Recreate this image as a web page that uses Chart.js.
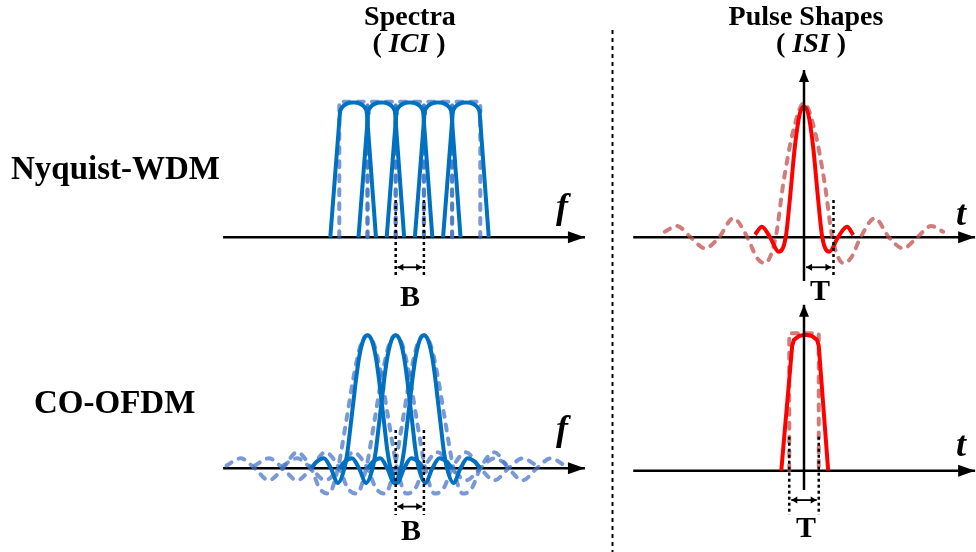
<!DOCTYPE html>
<html><head><meta charset="utf-8">
<script src="https://cdn.jsdelivr.net/npm/chart.js@4/dist/chart.umd.min.js"></script>
<style>
html,body{margin:0;padding:0;background:#fff;}
#wrap{position:relative;width:976px;height:552px;overflow:hidden;background:#fff;}
#c{position:absolute;left:0;top:0;}
.lbl{position:absolute;font-family:"Liberation Serif","Times New Roman",serif;font-weight:bold;line-height:1;white-space:nowrap;color:#000;}
.c{transform:translateX(-50%);}
.it{font-style:italic;}
</style></head><body>
<div id="wrap">
<canvas id="c" width="976" height="552"></canvas>
<div class="lbl c" style="left:410px;top:1.5px;font-size:28px">Spectra</div>
<div class="lbl c" style="left:409px;top:28.5px;font-size:28px">( <i>ICI</i> )</div>
<div class="lbl c" style="left:806px;top:1.5px;font-size:28px">Pulse Shapes</div>
<div class="lbl c" style="left:811px;top:28.5px;font-size:28px">( <i>ISI</i> )</div>
<div class="lbl" style="left:11px;top:152.4px;font-size:33px">Nyquist-WDM</div>
<div class="lbl" style="left:34px;top:385.7px;font-size:33px">CO-OFDM</div>
<div class="lbl c it" style="left:562px;top:188px;font-size:36px">f</div>
<div class="lbl c it" style="left:961px;top:195px;font-size:36px">t</div>
<div class="lbl c it" style="left:562px;top:410px;font-size:36px">f</div>
<div class="lbl c it" style="left:961px;top:426px;font-size:36px">t</div>
<div class="lbl c" style="left:410px;top:281px;font-size:30px">B</div>
<div class="lbl c" style="left:820px;top:275px;font-size:30px">T</div>
<div class="lbl c" style="left:411px;top:515px;font-size:30px">B</div>
<div class="lbl c" style="left:806px;top:512px;font-size:30px">T</div>
</div>
<script>
// ---------------- data ----------------
// Spectra: frequency in units of the sub-channel spacing B, amplitude normalised
const nyquistCenters = [-2, -1, 0, 1, 2];
const nyquistShapeOffset = [-0.82, -0.48, -0.465, -0.415, -0.34, -0.24, -0.12, 0, 0.12, 0.24, 0.34, 0.415, 0.465, 0.48, 0.80];
const nyquistShapeLevel  = [0, 0.91, 0.935, 0.955, 0.972, 0.985, 0.993, 0.995, 0.993, 0.985, 0.972, 0.955, 0.935, 0.91, 0];
const nyquistBoxEdges = [-2.5, -1.5, -0.5, 0.5, 1.5, 2.5];
const nyquistBoxLevel = 1.0;

const ofdmCenters = [-1.5, -0.5, 0.5];
const ofdmSolidOffset = [-2.0, -1.8, -1.55, -1.3, -1.05, -0.82, -0.7, -0.6, -0.5, -0.4, -0.3, -0.2, -0.1, 0, 0.1, 0.2, 0.3, 0.4, 0.5, 0.6, 0.7, 0.82, 1.05, 1.3, 1.55, 1.8, 2.0];
const ofdmSolidLevel  = [0, 0.05, 0.075, 0.0, -0.11, 0, 0.14, 0.32, 0.5, 0.68, 0.83, 0.93, 0.985, 1.0, 0.985, 0.93, 0.83, 0.68, 0.5, 0.32, 0.14, 0, -0.11, 0.0, 0.075, 0.05, 0];
const ofdmDashOffset = [-5.0, -4.5, -4.0, -3.5, -3.0, -2.5, -2.0, -1.7, -1.38, -1.05, -0.75, -0.5, -0.25, 0, 0.25, 0.5, 0.75, 1.05, 1.38, 1.7, 2.0, 2.5, 3.0, 3.5, 4.0, 4.5, 5.0];
const ofdmDashLevel  = [0.02, 0.075, 0.0, -0.09, 0.0, 0.12, 0.0, -0.15, -0.19, 0.0, 0.36, 0.68, 0.92, 1.0, 0.92, 0.68, 0.36, 0.0, -0.19, -0.15, 0.0, 0.12, 0.0, -0.09, 0.0, 0.075, 0.02];

// Pulse shapes: time in units of the symbol period T
const nyquistPulseTime  = [-1.66, -1.43, -1.15, -0.86, -0.62, -0.47, -0.31, -0.14, 0, 0.14, 0.31, 0.47, 0.62, 0.86, 1.15, 1.46, 1.67];
const nyquistPulseLevel = [0.02, 0.078, 0, -0.106, 0, 0.30, 0.668, 0.914, 0.963, 0.914, 0.668, 0.30, 0, -0.106, 0, 0.078, 0.017];
const sincPulseTime  = [-4.72, -4.31, -3.84, -3.36, -2.88, -2.4, -1.92, -1.6, -1.33, -0.96, -0.7, -0.36, 0, 0.36, 0.7, 0.96, 1.33, 1.6, 1.92, 2.4, 2.88, 3.36, 3.84, 4.31, 4.72];
const sincPulseLevel = [0.041, 0.083, 0, -0.081, 0, 0.14, 0, -0.15, -0.19, 0, 0.40, 0.79, 0.99, 0.79, 0.40, 0, -0.19, -0.15, 0, 0.14, 0, -0.081, 0, 0.083, 0.041];
const ofdmPulseTime  = [-0.77, -0.40, -0.34, -0.175, 0.05, 0.275, 0.44, 0.50, 0.82];
const ofdmPulseLevel = [0, 0.92, 0.962, 0.99, 1.0, 0.99, 0.962, 0.92, 0];
const rectBoxEdges = [-0.5, 0.5];
const rectBoxLevel = 1.01;

// axes and spacing markers
const freqAxisRange = [-6.62, 6.21];
const timeAxisRange = [-5.79, 5.80];
const pulseAxisTopRange = [-0.322, 1.234];
const pulseAxisBottomRange = [-0.142, 1.22];
const spacingB = [-0.5, 0.5];
const periodTTop = [0, 1];
const periodTBottom = [-0.5, 0.5];

// ---------------- layout (pixels) ----------------
const W = 976, H = 552;
const frame = {
  xL:  {origin: 409.8, px: 28.2, dir: 1},
  xR:  {origin: 804,   px: 29.5, dir: 1},
  yT:  {origin: 237.3, px: 135.6, dir: -1},
  yB:  {origin: 468.3, px: 133,   dir: -1},
  yBR: {origin: 470.7, px: 136,   dir: -1}
};
function scaleFor(id){
  const f = frame[id];
  const span = id[0] === 'x' ? W : H;
  const a = -f.origin / f.px, b = (span - f.origin) / f.px;
  return {type:'linear', display:false, position: id[0]==='x'?'bottom':'left',
          min: f.dir>0 ? a : -b, max: f.dir>0 ? b : -a,
          grid:{display:false}, ticks:{display:false}};
}

const BLUE = '#0070C0', BLUE_D = 'rgba(68,114,196,0.72)';
const RED = '#FF0000', RED_D = 'rgba(192,80,77,0.75)';
const DASH = [6, 8];

function pts(xs, ys, shift){ return xs.map((x,i)=>({x:x+(shift||0), y:ys[i]})); }
function hline(range, y){ return [{x:range[0],y:y},{x:range[1],y:y}]; }
function vline(x, range){ return [{x:x,y:range[0]},{x:x,y:range[1]}]; }
function box(l, r, h){ return [{x:l,y:0},{x:l,y:h},{x:r,y:h},{x:r,y:0}]; }

const layers = []; // bottom to top
function add(o){ layers.push(Object.assign({showLine:true, pointRadius:0, pointHoverRadius:0, fill:false, tension:0}, o)); }

// axes
add({data: hline(freqAxisRange, 0), xAxisID:'xL', yAxisID:'yT', borderColor:'#000', borderWidth:2.5, arrowEnd:[17,6]});
add({data: hline(freqAxisRange, 0), xAxisID:'xL', yAxisID:'yB', borderColor:'#000', borderWidth:2.5, arrowEnd:[17,6]});
add({data: hline(timeAxisRange, 0), xAxisID:'xR', yAxisID:'yT', borderColor:'#000', borderWidth:2.5, arrowEnd:[17,6]});
add({data: hline(timeAxisRange, 0), xAxisID:'xR', yAxisID:'yBR', borderColor:'#000', borderWidth:2.5, arrowEnd:[17,6]});

// Nyquist-WDM spectra
for (let i = 0; i < nyquistBoxEdges.length - 1; i++)
  add({data: box(nyquistBoxEdges[i], nyquistBoxEdges[i+1], nyquistBoxLevel), xAxisID:'xL', yAxisID:'yT', borderColor:BLUE_D, borderWidth:4, borderDash:DASH, borderCapStyle:'round'});
nyquistCenters.forEach(c => add({data: pts(nyquistShapeOffset, nyquistShapeLevel, c), xAxisID:'xL', yAxisID:'yT', borderColor:BLUE, borderWidth:4, borderJoinStyle:'round'}));

// CO-OFDM spectra
ofdmCenters.forEach(c => add({data: pts(ofdmDashOffset, ofdmDashLevel, c), xAxisID:'xL', yAxisID:'yB', borderColor:BLUE_D, borderWidth:4, borderDash:DASH, borderCapStyle:'round', cubicInterpolationMode:'monotone'}));
ofdmCenters.forEach(c => add({data: pts(ofdmSolidOffset, ofdmSolidLevel, c), xAxisID:'xL', yAxisID:'yB', borderColor:BLUE, borderWidth:4, cubicInterpolationMode:'monotone'}));

// pulse shapes
add({data: pts(sincPulseTime, sincPulseLevel), xAxisID:'xR', yAxisID:'yT', borderColor:RED_D, borderWidth:4, borderDash:DASH, borderCapStyle:'round', cubicInterpolationMode:'monotone'});
add({data: pts(nyquistPulseTime, nyquistPulseLevel), xAxisID:'xR', yAxisID:'yT', borderColor:RED, borderWidth:4, cubicInterpolationMode:'monotone'});
add({data: box(rectBoxEdges[0], rectBoxEdges[1], rectBoxLevel), xAxisID:'xR', yAxisID:'yBR', borderColor:RED_D, borderWidth:4, borderDash:DASH, borderCapStyle:'round'});
add({data: pts(ofdmPulseTime, ofdmPulseLevel), xAxisID:'xR', yAxisID:'yBR', borderColor:RED, borderWidth:4, borderJoinStyle:'round'});

// vertical time axes (on top of pulses)
add({data: vline(0, pulseAxisTopRange), xAxisID:'xR', yAxisID:'yT', borderColor:'#000', borderWidth:2.5, arrowEnd:[12,5]});
add({data: vline(0, pulseAxisBottomRange), xAxisID:'xR', yAxisID:'yBR', borderColor:'#000', borderWidth:2.5, arrowEnd:[12,5]});

// spacing markers
const MK = {borderColor:'#000', borderWidth:2.5, borderDash:[3,3]};
spacingB.forEach(x => add(Object.assign({data: vline(x, [0.275, -0.30]), xAxisID:'xL', yAxisID:'yT'}, MK)));
spacingB.forEach(x => add(Object.assign({data: vline(x, [0.288, -0.351]), xAxisID:'xL', yAxisID:'yB'}, MK)));
add(Object.assign({data: vline(periodTTop[1], [0.275, -0.30]), xAxisID:'xR', yAxisID:'yT'}, MK));
periodTBottom.forEach(x => add(Object.assign({data: vline(x, [0.25, -0.325]), xAxisID:'xR', yAxisID:'yBR'}, MK)));
const ARW = {borderColor:'#000', borderWidth:1.8, arrowEnd:[6,3.5], arrowStart:[6,3.5]};
add(Object.assign({data: hline([spacingB[0]+0.06, spacingB[1]-0.06], -0.221), xAxisID:'xL', yAxisID:'yT'}, ARW));
add(Object.assign({data: hline([spacingB[0]+0.06, spacingB[1]-0.06], -0.288), xAxisID:'xL', yAxisID:'yB'}, ARW));
add(Object.assign({data: hline([periodTTop[0]+0.07, periodTTop[1]-0.07], -0.221), xAxisID:'xR', yAxisID:'yT'}, ARW));
add(Object.assign({data: hline([periodTBottom[0]+0.07, periodTBottom[1]-0.07], -0.216), xAxisID:'xR', yAxisID:'yBR'}, ARW));

// ---------------- plugins ----------------
const arrowPlugin = {
  id:'arrows',
  afterDatasetsDraw(chart){
    const ctx = chart.ctx;
    chart.data.datasets.forEach((ds, i) => {
      const pts = chart.getDatasetMeta(i).data;
      if (pts.length < 2) return;
      const head = (tip, from, size) => {
        const a = Math.atan2(tip.y - from.y, tip.x - from.x);
        const [len, hw] = size;
        ctx.save();
        ctx.fillStyle = ds.borderColor;
        ctx.beginPath();
        ctx.moveTo(tip.x, tip.y);
        ctx.lineTo(tip.x - len*Math.cos(a) - hw*Math.sin(a), tip.y - len*Math.sin(a) + hw*Math.cos(a));
        ctx.lineTo(tip.x - len*Math.cos(a) + hw*Math.sin(a), tip.y - len*Math.sin(a) - hw*Math.cos(a));
        ctx.closePath();
        ctx.fill();
        ctx.restore();
      };
      if (ds.arrowEnd) head(pts[pts.length-1], pts[pts.length-2], ds.arrowEnd);
      if (ds.arrowStart) head(pts[0], pts[1], ds.arrowStart);
    });
  }
};
const dividerPlugin = {
  id:'divider',
  beforeDatasetsDraw(chart){
    const ctx = chart.ctx;
    ctx.save();
    ctx.strokeStyle = '#000';
    ctx.lineWidth = 2;
    ctx.setLineDash([4,4]);
    ctx.beginPath();
    ctx.moveTo(612.5, 30);
    ctx.lineTo(612.5, 552);
    ctx.stroke();
    ctx.restore();
  }
};

new Chart(document.getElementById('c'), {
  type:'scatter',
  data:{datasets: layers.slice().reverse()},
  options:{
    responsive:false, animation:false, devicePixelRatio:1, events:[],
    layout:{padding:0},
    plugins:{legend:{display:false}, tooltip:{enabled:false}, title:{display:false}},
    scales:{xL:scaleFor('xL'), xR:scaleFor('xR'), yT:scaleFor('yT'), yB:scaleFor('yB'), yBR:scaleFor('yBR')}
  },
  plugins:[arrowPlugin, dividerPlugin]
});
</script>
</body></html>
